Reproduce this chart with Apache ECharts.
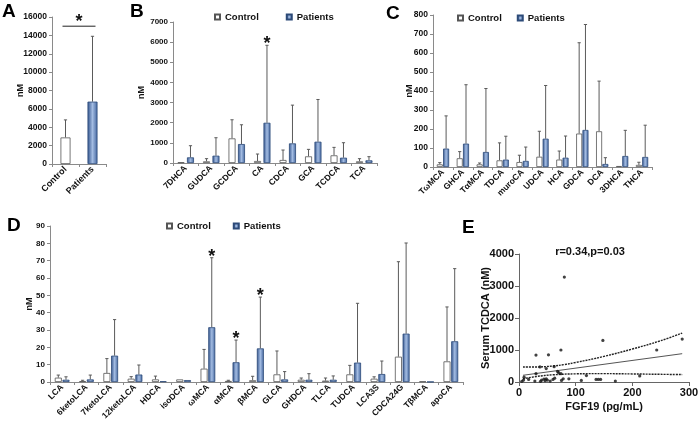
<!DOCTYPE html>
<html><head><meta charset="utf-8">
<script src="https://cdn.jsdelivr.net/npm/echarts@6/dist/echarts.min.js"></script>
<style>html,body{margin:0;padding:0;background:#fff}#c{width:700px;height:427px}</style>
</head><body><div id="c"></div><script>
// ---------- Panel A ----------
const catsA = ['Control', 'Patients'];
const meanA = [2890, 6790];
const errA = [4800, 13900];
const sigLevelA = 15000;

// ---------- Panel B ----------
const catsB = ['7DHCA','GUDCA','GCDCA','CA','CDCA','GCA','TCDCA','TCA'];
const ctrlB = [33, 82, 1222, 99, 149, 330, 380, 83];
const ctrlErrB = [33, 215, 2146, 446, 644, 677, 776, 215];
const patB = [280, 363, 941, 1998, 974, 1057, 264, 132];
const patErrB = [858, 1255, 1898, 5844, 2873, 3153, 1007, 314];
const starsB = ['CA'];

// ---------- Panel C ----------
const catsC = ['TωMCA','GHCA','TαMCA','TDCA','muroCA','UDCA','HCA','GDCA','DCA','3DHCA','THCA'];
const ctrlC = [14, 46, 14, 35, 26, 54, 39, 176, 188, 5, 11];
const ctrlErrC = [23, 81, 21, 127, 62, 188, 84, 654, 452, 5, 25];
const patC = [97, 123, 79, 39, 32, 149, 49, 195, 16, 58, 53];
const patErrC = [269, 433, 413, 162, 105, 429, 163, 750, 49, 193, 220];

// ---------- Panel D ----------
const catsD = ['LCA','6ketoLCA','7ketoLCA','12ketoLCA','HDCA','isoDCA','ωMCA','αMCA','βMCA','GLCA','GHDCA','TLCA','TUDCA','LCA3S','CDCA24G','TβMCA','apoCA'];
const ctrlD = [2.5, 0.5, 5.2, 1.9, 1.5, 1.5, 7.7, 0.6, 1.0, 4.4, 1.3, 0.8, 4.4, 1.9, 14.6, 0.3, 11.9];
const ctrlErrD = [4.0, 1.0, 13.5, 3.1, 3.4, 1.5, 18.8, 1.0, 3.3, 17.9, 2.3, 2.3, 9.6, 3.0, 69.4, 0.3, 43.3];
const patD = [1.3, 1.5, 15.2, 4.3, 0.4, 1.1, 31.6, 11.4, 19.4, 1.5, 1.3, 1.3, 11.2, 4.6, 27.9, 0.1, 23.5];
const patErrD = [3.0, 4.0, 36.0, 9.8, 0.4, 1.1, 71.7, 24.2, 49.0, 6.0, 4.8, 3.5, 45.4, 12.1, 80.2, 0.1, 65.4];
const starsD = ['ωMCA','αMCA','βMCA'];

// ---------- Panel E ----------
const pointsE = [
  [80,3280],[148,1300],[288,1340],[243,1000],[74,1000],[30,840],[52,850],
  [37,470],[48,420],[62,480],[30,260],[68,330],[74,260],[70,290],
  [9,150],[5,20],[8,60],[17,80],[28,30],[38,20],[40,60],[44,90],[46,40],
  [48,100],[50,60],[55,30],[60,80],[63,120],[75,50],[78,100],[88,100],
  [110,50],[119,200],[136,80],[140,80],[144,80],[170,30],[213,190]
];
const fitE = [[7,210],[288,885]];
const upperE = [[7,470],[30,470],[60,500],[80,545],[100,610],[150,800],[200,1030],[250,1290],[288,1530]];
const lowerE = [[7,100],[30,170],[60,225],[100,255],[150,262],[200,252],[250,240],[288,232]];
const titleE = 'r=0.34,p=0.03';

// ---------- styling ----------
const FONT = 'Liberation Sans';
const TXT = '#111';
const blueGrad = {type:'linear',x:0,y:0,x2:1,y2:0,colorStops:[
  {offset:0,color:'#30518a'},{offset:0.5,color:'#a3bce2'},{offset:1,color:'#42659e'}]};
const ctrlStyle = {color:'#ffffff', borderColor:'#555', borderWidth:0.8};
const patStyle = {color:blueGrad, borderColor:'#2c4a78', borderWidth:0.8};
const AX = '#8a8a8a';
const plain = v => String(v);

function catAxis(gi, cats, fs) {
  return {type:'category', gridIndex:gi, data:cats, boundaryGap:true,
    axisLine:{show:true, lineStyle:{color:AX}},
    axisTick:{show:true, length:3, lineStyle:{color:AX}},
    axisLabel:{rotate:45, interval:0, fontSize:fs, fontWeight:'bold', fontFamily:FONT, color:TXT, margin:4},
    splitLine:{show:false}};
}
function valAxis(gi, max, interval, fs, nameGap) {
  return {type:'value', gridIndex:gi, min:0, max:max, interval:interval,
    name:'nM', nameLocation:'middle', nameGap:nameGap, nameMoveOverlap:false,
    nameTextStyle:{fontSize:9, fontWeight:'bold', fontFamily:FONT, color:TXT},
    axisLine:{show:true, lineStyle:{color:AX}},
    axisTick:{show:true, length:3, lineStyle:{color:AX}},
    axisLabel:{fontSize:fs, fontWeight:'bold', fontFamily:FONT, color:TXT, margin:5, formatter:plain},
    splitLine:{show:false}};
}
function errSeries(idx, cats, means, tops, offset) {
  return {type:'custom', xAxisIndex:idx, yAxisIndex:idx, silent:true, z:1,
    data: cats.map((c,i)=>[i, means[i], tops[i]]),
    renderItem(params, api){
      const b = api.coord([api.value(0), api.value(1)]);
      const t = api.coord([api.value(0), api.value(2)]);
      const x = b[0] + offset;
      if (Math.abs(b[1]-t[1]) < 0.6) return {type:'group', children:[]};
      return {type:'group', children:[
        {type:'line', shape:{x1:x,y1:b[1],x2:x,y2:t[1]}, style:{stroke:'#5a5a5a',lineWidth:1}},
        {type:'line', shape:{x1:x-1.6,y1:t[1],x2:x+1.6,y2:t[1]}, style:{stroke:'#5a5a5a',lineWidth:1}}
      ]};
    }};
}
function starSeries(idx, cats, names, tops, offset) {
  return {type:'custom', xAxisIndex:idx, yAxisIndex:idx, silent:true, z:5,
    data: names.map(n => { const i = cats.indexOf(n); return [i, tops[i]]; }),
    renderItem(params, api){
      const p = api.coord([api.value(0), api.value(1)]);
      return {type:'text', x:p[0]+offset, y:p[1]-1, style:{text:'*', fontSize:18, fontWeight:'bold',
        fontFamily:FONT, fill:'#111', align:'center', verticalAlign:'middle'}};
    }};
}
function barPair(idx, ctrl, pat, bw, gap) {
  return [
    {name:'Control', type:'bar', xAxisIndex:idx, yAxisIndex:idx, data:ctrl, barWidth:bw, barGap:gap, itemStyle:ctrlStyle, z:2},
    {name:'Patients', type:'bar', xAxisIndex:idx, yAxisIndex:idx, data:pat, barWidth:bw, barGap:gap, itemStyle:patStyle, z:2}
  ];
}
function pairOffset(bw, gapFrac){ return (bw + bw*gapFrac)/2; }

const grids = [
  {left:52, top:17, width:54, height:147},
  {left:173, top:22, width:204, height:141},
  {left:433, top:15, width:219, height:152},
  {left:50, top:226, width:413, height:156},
  {left:519, top:254, width:170, height:128}
].map(g => Object.assign({containLabel:false, outerBoundsMode:'none'}, g));

const legendBase = {icon:'rect', itemWidth:5, itemHeight:5, padding:0, data:['Control','Patients'],
  selectedMode:false, textStyle:{fontSize:9.5, fontWeight:'bold', fontFamily:FONT, color:TXT}};

const series = [];
// A
series.push({name:'A', type:'bar', xAxisIndex:0, yAxisIndex:0, barWidth:10, z:2,
  data: meanA.map((v,i)=>({value:v, itemStyle: i===0 ? ctrlStyle : patStyle}))});
series.push(errSeries(0, catsA, meanA, errA, 0));
series.push({type:'custom', xAxisIndex:0, yAxisIndex:0, silent:true, z:5,
  data:[[0, 1, sigLevelA]],
  renderItem(params, api){
    const p0 = api.coord([api.value(0), api.value(2)]);
    const p1 = api.coord([api.value(1), api.value(2)]);
    return {type:'group', children:[
      {type:'line', shape:{x1:p0[0]-3,y1:p0[1],x2:p1[0]+3,y2:p1[1]}, style:{stroke:'#222',lineWidth:1}},
      {type:'text', x:(p0[0]+p1[0])/2, y:p0[1]-4, style:{text:'*', fontSize:18, fontWeight:'bold', fontFamily:FONT,
        fill:'#111', align:'center', verticalAlign:'middle'}}
    ]};
  }});
// B
const bwB = 7, gB = 0.35, oB = pairOffset(bwB, gB);
series.push(...barPair(1, ctrlB, patB, bwB, '35%'));
series.push(errSeries(1, catsB, ctrlB, ctrlErrB, -oB));
series.push(errSeries(1, catsB, patB, patErrB, oB));
series.push(starSeries(1, catsB, starsB, patErrB, oB));
// C
const bwC = 6, gC = 0.05, oC = pairOffset(bwC, gC);
series.push(...barPair(2, ctrlC, patC, bwC, '5%'));
series.push(errSeries(2, catsC, ctrlC, ctrlErrC, -oC));
series.push(errSeries(2, catsC, patC, patErrC, oC));
// D
const bwD = 7, gD = 0.1, oD = pairOffset(bwD, gD);
series.push(...barPair(3, ctrlD, patD, bwD, '10%'));
series.push(errSeries(3, catsD, ctrlD, ctrlErrD, -oD));
series.push(errSeries(3, catsD, patD, patErrD, oD));
series.push(starSeries(3, catsD, starsD, patErrD, oD));
// E
series.push({name:'pts', type:'scatter', xAxisIndex:4, yAxisIndex:4, data:pointsE, symbolSize:3.2,
  itemStyle:{color:'#111'}, z:4});
series.push({name:'fit', type:'line', xAxisIndex:4, yAxisIndex:4, data:fitE, showSymbol:false, symbol:'none',
  lineStyle:{color:'#555', width:1}, z:3});
series.push({name:'up', type:'line', xAxisIndex:4, yAxisIndex:4, data:upperE, smooth:0.4, showSymbol:false, symbol:'none',
  lineStyle:{color:'#222', width:1.4, type:[2,1]}, z:3});
series.push({name:'lo', type:'line', xAxisIndex:4, yAxisIndex:4, data:lowerE, smooth:0.4, showSymbol:false, symbol:'none',
  lineStyle:{color:'#222', width:1.4, type:[2,1]}, z:3});

const letter = (t, l, tp) => ({text:t, left:l, top:tp, padding:0,
  textStyle:{fontSize:19, fontWeight:'bold', fontFamily:FONT, color:'#000'}});

const option = {
  animation:false,
  backgroundColor:'#fff',
  title:[
    letter('A', 2, 2), letter('B', 130, 2), letter('C', 386, 4), letter('D', 7, 216), letter('E', 462, 218),
    {text:titleE, left:590, top:246, textAlign:'center', padding:0,
      textStyle:{fontSize:11, fontWeight:'bold', fontFamily:FONT, color:TXT}}
  ],
  legend:[
    Object.assign({}, legendBase, {left:214, top:12, itemGap:27}),
    Object.assign({}, legendBase, {left:457, top:13, itemGap:15}),
    Object.assign({}, legendBase, {left:166, top:221, itemGap:22})
  ],
  grid: grids,
  xAxis:[
    catAxis(0, catsA, 9), catAxis(1, catsB, 8.5), catAxis(2, catsC, 8.5), catAxis(3, catsD, 8.5),
    {type:'value', gridIndex:4, min:0, max:300, interval:100,
      name:'FGF19 (pg/mL)', nameLocation:'middle', nameGap:19, nameMoveOverlap:false,
      nameTextStyle:{fontSize:11, fontWeight:'bold', fontFamily:FONT, color:TXT},
      axisLine:{show:true, lineStyle:{color:'#666'}}, axisTick:{show:true, length:4, lineStyle:{color:'#666'}},
      axisLabel:{fontSize:11, fontWeight:'bold', fontFamily:FONT, color:TXT, margin:5, formatter:plain}, splitLine:{show:false}}
  ],
  yAxis:[
    valAxis(0, 16000, 2000, 8.5, 26.5), valAxis(1, 7000, 1000, 8, 26.5), valAxis(2, 800, 100, 8.5, 18.5), valAxis(3, 90, 10, 8, 15.5),
    {type:'value', gridIndex:4, min:0, max:4000, interval:1000,
      name:'Serum TCDCA (nM)', nameLocation:'middle', nameGap:28, nameMoveOverlap:false,
      nameTextStyle:{fontSize:11, fontWeight:'bold', fontFamily:FONT, color:TXT},
      axisLine:{show:true, lineStyle:{color:'#666'}}, axisTick:{show:true, length:4, lineStyle:{color:'#666'}},
      axisLabel:{fontSize:11, fontWeight:'bold', fontFamily:FONT, color:TXT, margin:5, formatter:plain}, splitLine:{show:false}}
  ],
  series: series
};
const chart = echarts.init(document.getElementById('c'), null, {renderer:'canvas'});
chart.setOption(option);
</script></body></html>
